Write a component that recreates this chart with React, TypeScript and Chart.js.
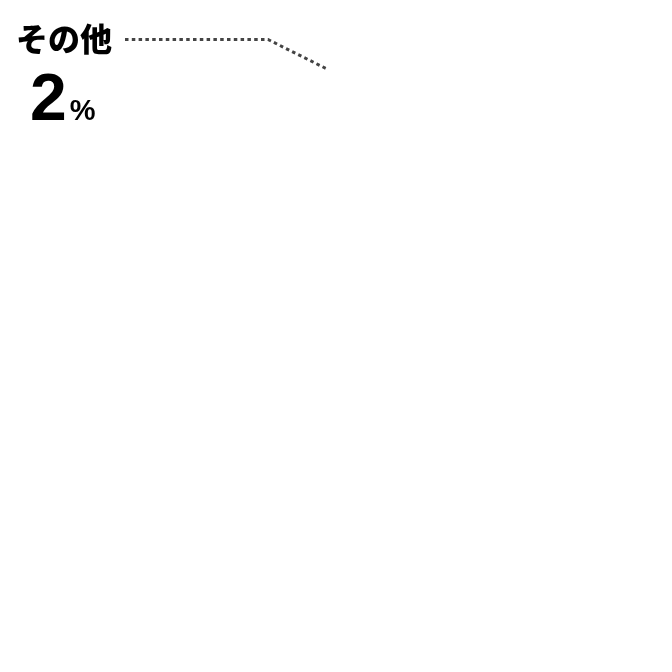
import { useEffect, useRef } from "react";
import { Chart, registerables, ChartConfiguration, Plugin } from "chart.js";

Chart.register(...registerables);

// label shown for the small slice
const categories = ["その他"];
const shares = [2];

// leader line points, in chart units (0..672 both ways)
const leaderX = [125, 268, 328];
const leaderY = [39.5, 39.5, 69.5];

// label anchor (chart units)
const labelX = [16];
const labelY = [38];

const SIZE = 672;

const labelPlugin: Plugin = {
  id: "sliceLabel",
  afterDraw(chart) {
    const { ctx, scales } = chart;
    const x = scales.x.getPixelForValue(labelX[0]);
    const y = scales.y.getPixelForValue(labelY[0]);
    ctx.save();
    ctx.fillStyle = "#000";
    ctx.textBaseline = "middle";
    ctx.textAlign = "left";
    ctx.font = "900 32px 'Noto Sans CJK JP', sans-serif";
    ctx.fillText(categories[0], x, y + 1);

    ctx.textBaseline = "alphabetic";
    ctx.font = "bold 66px 'Liberation Sans', Arial, sans-serif";
    const num = String(shares[0]);
    ctx.fillText(num, x + 14, y + 82);
    const w = ctx.measureText(num).width;
    ctx.font = "bold 29px 'Liberation Sans', Arial, sans-serif";
    ctx.fillText("%", x + 14 + w + 3, y + 82);
    ctx.restore();
  },
};

export default function App() {
  const canvasRef = useRef<HTMLCanvasElement>(null);
  const chartInstance = useRef<Chart | null>(null);

  useEffect(() => {
    document.body.style.margin = "0";
    if (!canvasRef.current) return;
    if (chartInstance.current) chartInstance.current.destroy();

    const config: ChartConfiguration = {
      type: "scatter",
      data: {
        datasets: [
          {
            label: categories[0],
            data: leaderX.map((x, i) => ({ x, y: leaderY[i] })),
            showLine: true,
            borderColor: "#444",
            borderWidth: 3,
            borderDash: [3.5, 3.3],
            pointRadius: 0,
            fill: false,
          },
        ],
      },
      options: {
        responsive: false,
        animation: false,
        layout: { padding: 0 },
        plugins: {
          legend: { display: false },
          tooltip: { enabled: false },
        },
        scales: {
          x: { type: "linear", min: 0, max: SIZE, display: false },
          y: { type: "linear", min: 0, max: SIZE, reverse: true, display: false },
        },
      },
      plugins: [labelPlugin],
    };

    chartInstance.current = new Chart(canvasRef.current, config);
    return () => {
      if (chartInstance.current) chartInstance.current.destroy();
    };
  }, []);

  return (
    <div style={{ width: SIZE, height: SIZE, background: "#fff" }}>
      <canvas ref={canvasRef} width={SIZE} height={SIZE}></canvas>
    </div>
  );
}
